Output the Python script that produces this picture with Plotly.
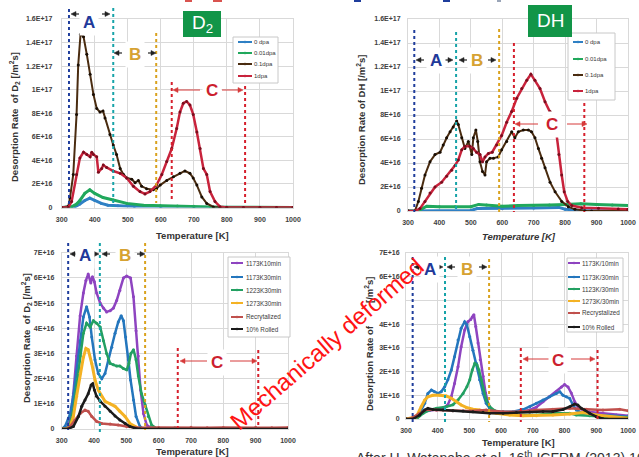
import plotly.graph_objects as go
import numpy as np

W, H = 639, 457
def fx(p): return p / W
def fy(p): return 1 - p / H

E16 = 1e16
temp_ticks = [300, 400, 500, 600, 700, 800, 900, 1000]
top_ytick_vals = [0, 2, 4, 6, 8, 10, 12, 14, 16]
top_ytick_text = ["0", "2E+16", "4E+16", "6E+16", "8E+16", "1E+17", "1.2E+17", "1.4E+17", "1.6E+17"]
bot_ytick_vals = [0, 1, 2, 3, 4, 5, 6, 7]
bot_ytick_text = ["0", "1E+16", "2E+16", "3E+16", "4E+16", "5E+16", "6E+16", "7E+16"]
# in the bottom-right panel the 5E+16 label is hidden behind the "Mechanically deformed" caption
br_ytick_text = ["0", "1E+16", "2E+16", "3E+16", "4E+16", "", "6E+16", "7E+16"]

# ---------------- Top-left: D2, irradiation dose ----------------
tl_names = ["0 dpa", "0.01dpa", "0.1dpa", "1dpa"]
tl_T_0dpa = [300, 340, 355, 370, 385, 400, 420, 440, 470, 520, 600, 700, 800, 1000]
tl_V_0dpa = [0, 0.05, 0.3, 0.6, 0.8, 0.6, 0.35, 0.2, 0.15, 0.08, 0.03, 0.01, 0, 0]
tl_T_001 = [300, 330, 345, 355, 370, 385, 400, 425, 456, 497, 547, 598, 650, 700, 750, 800, 1000]
tl_V_001 = [0, 0.05, 0.3, 0.6, 1.2, 1.5, 1.2, 0.85, 0.64, 0.35, 0.2, 0.15, 0.12, 0.1, 0.05, 0.02, 0]
tl_T_01 = [300, 320, 325, 335, 345, 350, 357, 366, 376, 386, 396, 406, 416, 425, 431, 446, 456, 466, 477, 487,
           497, 512, 522, 532, 542, 557, 577, 587, 598, 618, 638, 658, 673, 688, 698, 709, 724, 739, 759, 779,
           800, 850, 900, 950, 1000]
tl_V_01 = [0, 0.1, 0.8, 2.8, 7.9, 12.1, 14.7, 14.5, 13.0, 11.3, 9.6, 8.4, 8.1, 8.2, 7.6, 6.2, 5.3, 4.5, 3.3, 2.8,
           2.5, 2.4, 2.1, 2.3, 1.8, 1.6, 1.5, 1.6, 1.9, 2.3, 2.6, 2.9, 3.1, 2.9, 2.5, 1.9, 0.9, 0.35, 0.05, 0,
           0, 0, 0, 0, 0]
tl_T_1dpa = [300, 320, 330, 345, 355, 366, 376, 386, 391, 396, 406, 411, 421, 426, 436, 456, 477, 497, 517, 537,
             552, 567, 587, 603, 618, 633, 648, 658, 668, 678, 688, 698, 709, 719, 729, 739, 749, 764, 779, 799,
             850, 900, 950, 1000]
tl_V_1dpa = [0, 0, 0.5, 2.8, 4.2, 4.7, 4.5, 4.3, 4.7, 4.5, 4.3, 3.0, 3.3, 3.6, 3.4, 3.1, 2.9, 2.5, 1.8, 1.35,
             1.15, 1.35, 1.9, 2.8, 3.9, 5.0, 6.7, 8.1, 8.85, 9.0, 8.7, 7.9, 6.4, 5.0, 3.3, 2.8, 1.35, 0.5, 0.07, 0,
             0, 0, 0, 0]

# ---------------- Top-right: DH, irradiation dose ----------------
tr_names = ["0 dpa", "0.01dpa", "0.1dpa", "1dpa"]
tr_T_0dpa = [300, 500, 520, 600, 700, 780, 800, 850, 1000]
tr_V_0dpa = [0, 0.05, 0.2, 0.2, 0.25, 0.3, 0.15, 0.05, 0]
tr_T_001 = [300, 330, 345, 360, 400, 450, 500, 525, 550, 600, 650, 700, 750, 800, 850, 900, 950, 1000]
tr_V_001 = [0, 0, 0.2, 0.4, 0.35, 0.35, 0.35, 0.55, 0.5, 0.4, 0.45, 0.45, 0.5, 0.55, 0.6, 0.55, 0.5, 0.45]
tr_T_01 = [300, 322, 333, 343, 354, 370, 386, 402, 412, 423, 434, 444, 455, 460, 471, 481, 492, 503, 508, 516,
           522, 529, 537, 545, 550, 561, 572, 587, 598, 614, 630, 640, 651, 667, 683, 693, 704, 715, 725, 736,
           752, 768, 789, 810, 831, 863, 884, 1000]
tr_V_01 = [0, 0, 0.8, 1.9, 3.0, 4.1, 4.7, 4.9, 5.5, 6.1, 6.6, 7.0, 7.5, 7.2, 6.1, 5.2, 5.8, 4.7, 6.1, 6.75,
           5.8, 4.1, 3.3, 3.0, 4.1, 4.4, 4.4, 4.5, 5.1, 5.8, 6.6, 6.1, 6.6, 6.75, 6.75, 6.6, 6.1, 5.2, 4.4, 3.6,
           2.4, 1.6, 0.8, 0.36, 0.14, 0.03, 0, 0]
tr_T_1dpa = [300, 322, 338, 354, 370, 386, 407, 423, 439, 450, 460, 471, 481, 497, 508, 518, 529, 537, 545, 556,
             568, 582, 598, 614, 630, 646, 662, 678, 691, 704, 720, 736, 752, 762, 773, 780, 789, 797, 808, 821,
             853, 906, 969, 1000]
tr_V_1dpa = [0, 0, 0.2, 0.8, 1.5, 2.0, 2.4, 2.9, 3.4, 3.8, 4.25, 5.1, 5.4, 5.4, 5.2, 4.9, 4.7, 4.1, 4.5, 4.8,
             4.9, 5.5, 6.3, 7.4, 8.3, 9.4, 10.2, 10.9, 11.4, 10.9, 10.2, 9.1, 8.3, 7.7, 6.3, 4.7, 3.0, 1.6, 0.8, 0.45,
             0.28, 0.22, 0.17, 0.14]

# ---------------- Bottom-left: D2, annealing ----------------
bl_names = ["1173K10min", "1173K30min", "1223K30min", "1273K30min", "Recrytalized", "10% Rolled"]
bl_T_p = [300, 315, 326, 336, 346, 357, 367, 375, 382, 390, 395, 401, 408, 419, 429, 439, 450, 460, 470, 480,
          491, 501, 513, 522, 530, 537, 544, 553, 563, 578, 594, 700, 800, 900, 1000]
bl_V_p = [0, 0, 0.36, 1.4, 2.9, 4.5, 5.4, 5.9, 6.15, 5.8, 6.05, 5.85, 5.4, 5.0, 4.8, 4.65, 4.7, 4.8, 5.1, 5.5,
          6.0, 6.07, 6.0, 5.25, 3.9, 2.9, 1.55, 0.62, 0.16, 0.03, 0, 0, 0, 0, 0]
bl_T_b = [300, 310, 320, 326, 336, 346, 357, 367, 377, 386, 393, 403, 413, 424, 434, 444, 455, 465, 475, 484,
          491, 498, 506, 513, 522, 530, 542, 553, 600, 1000]
bl_V_b = [0, 0.1, 0.4, 0.6, 1.3, 2.3, 3.5, 4.45, 4.85, 4.45, 3.65, 2.75, 2.2, 2.0, 2.2, 2.75, 3.25, 3.8, 4.25, 4.5,
          4.3, 3.65, 2.75, 1.95, 1.15, 0.5, 0.1, 0, 0, 0]
bl_T_g = [300, 316, 326, 336, 346, 357, 367, 377, 388, 398, 408, 419, 429, 439, 450, 460, 470, 480, 491, 501,
          508, 514, 522, 530, 537, 547, 558, 568, 578, 594, 700, 1000]
bl_V_g = [0, 0, 0.22, 0.75, 1.7, 2.9, 3.8, 4.2, 4.05, 4.3, 4.2, 4.05, 3.5, 3.0, 2.6, 2.55, 2.5, 2.5, 2.4, 2.35,
          2.6, 3.0, 3.15, 2.75, 2.1, 1.4, 0.95, 0.5, 0.16, 0.02, 0, 0]
bl_T_o = [300, 316, 326, 336, 346, 357, 367, 375, 382, 393, 403, 413, 424, 434, 450, 465, 480, 496, 511, 527,
          542, 600, 1000]
bl_V_o = [0, 0, 0.1, 0.5, 1.3, 2.2, 2.85, 3.2, 3.15, 2.6, 1.95, 1.55, 1.3, 1.1, 1.0, 0.9, 0.7, 0.5, 0.22, 0.1,
          0, 0, 0]
bl_T_r = [300, 316, 326, 341, 357, 372, 382, 393, 408, 424, 450, 475, 501, 532, 600, 650, 700, 750, 800, 850,
          900, 950, 1000]
bl_V_r = [0, 0, 0.1, 0.36, 0.62, 0.75, 0.7, 0.5, 0.3, 0.22, 0.2, 0.16, 0.1, 0.05, 0.06, 0.05, 0.07, 0.05, 0.06, 0.05,
          0.07, 0.05, 0.06]
bl_T_k = [300, 320, 336, 352, 362, 372, 382, 391, 396, 401, 408, 419, 434, 450, 465, 480, 496, 511, 527, 542,
          600, 1000]
bl_V_k = [0, 0, 0.1, 0.5, 0.9, 1.15, 1.4, 1.75, 1.8, 1.55, 1.3, 1.1, 0.9, 0.7, 0.52, 0.36, 0.22, 0.1, 0.03, 0,
          0, 0]

# ---------------- Bottom-right: DH, annealing ----------------
br_names = ["1173K/10min", "1173K/30min", "1123K/30min", "1273K/30min", "Recrystalized", "10% Rolled"]
br_T_p = [300, 322, 354, 396, 417, 432, 443, 453, 464, 474, 485, 495, 504, 509, 514, 520, 527, 534, 543, 551,
          559, 569, 585, 606, 648, 690, 711, 732, 753, 774, 790, 800, 811, 821, 832, 842, 858, 879, 921, 963, 1000]
br_V_p = [0, 0, 0.3, 0.38, 0.45, 0.6, 0.95, 1.5, 2.2, 3.05, 3.75, 4.1, 4.2, 4.3, 4.4, 3.9, 3.2, 2.5, 1.8, 1.1,
          0.65, 0.4, 0.3, 0.28, 0.28, 0.38, 0.5, 0.73, 0.95, 1.15, 1.35, 1.45, 1.35, 1.1, 0.73, 0.52, 0.38, 0.3, 0.24,
          0.17, 0.14]
br_T_b = [300, 322, 343, 359, 369, 380, 390, 401, 411, 422, 432, 443, 453, 464, 474, 485, 492, 501, 511, 522,
          532, 543, 553, 564, 585, 606, 637, 669, 690, 711, 732, 753, 774, 785, 795, 806, 816, 827, 837, 858,
          900, 942, 1000]
br_V_b = [0, 0, 0.24, 0.66, 1.08, 1.22, 1.15, 1.08, 1.15, 1.36, 1.65, 2.07, 2.63, 3.33, 3.83, 4.1, 3.97, 3.47, 2.9,
          2.35, 1.65, 1.08, 0.66, 0.45, 0.31, 0.31, 0.31, 0.4, 0.52, 0.66, 0.8, 0.94, 1.08, 1.15, 1.0, 0.94, 0.87,
          0.59, 0.38, 0.24, 0.17, 0.15, 0.1]
br_T_g = [300, 333, 354, 375, 396, 427, 448, 464, 480, 492, 501, 509, 517, 524, 530, 538, 545, 553, 564, 580,
          606, 658, 711, 763, 816, 837, 879, 921, 1000]
br_V_g = [0, 0, 0.24, 0.38, 0.45, 0.52, 0.6, 0.8, 1.08, 1.36, 1.65, 2.07, 2.35, 2.28, 2.07, 1.65, 1.22, 0.8, 0.52,
          0.35, 0.24, 0.17, 0.17, 0.24, 0.24, 0.17, 0.14, 0.1, 0.07]
br_T_o = [300, 333, 348, 359, 369, 385, 406, 427, 443, 459, 474, 490, 511, 532, 553, 585, 627, 669, 711, 763,
          816, 858, 900, 942, 1000]
br_V_o = [0, 0.1, 0.52, 0.8, 0.94, 1.0, 1.0, 0.97, 0.87, 0.73, 0.59, 0.49, 0.41, 0.38, 0.31, 0.24, 0.17, 0.14, 0.14,
          0.17, 0.21, 0.27, 0.17, 0.1, 0.03]
br_T_r = [300, 312, 343, 364, 396, 448, 501, 553, 606, 658, 711, 763, 816, 869, 921, 974, 1000]
br_V_r = [0, 0, 0.24, 0.4, 0.38, 0.35, 0.34, 0.38, 0.31, 0.31, 0.38, 0.41, 0.45, 0.41, 0.38, 0.41, 0.35]
br_T_k = [300, 322, 343, 359, 369, 385, 417, 448, 480, 511, 543, 564, 606, 648, 690, 732, 763, 795, 816, 832,
          842, 853, 863, 879, 900, 921, 1000]
br_V_k = [0, 0, 0.17, 0.38, 0.45, 0.4, 0.38, 0.35, 0.34, 0.31, 0.28, 0.24, 0.24, 0.27, 0.3, 0.32, 0.32, 0.4, 0.52,
          0.63, 0.59, 0.45, 0.38, 0.24, 0.1, 0.01, 0]

# colours
C_BLUE, C_GREEN, C_BROWN, C_RED = "#2f80c4", "#20a85c", "#4a2c10", "#c8233c"
C_PURP, C_BLUE2, C_GREEN2, C_ORANGE, C_PINK, C_BLACK = "#8e44c0", "#2476bd", "#23a062", "#f4b224", "#c0504d", "#1b1b1b"
LTXT = "#3a3a3a"
FONT = "Arial, Liberation Sans, sans-serif"

fig = go.Figure()

def add(T, V, xa, ya, color, width, mcolor=None, msize=3):
    fig.add_trace(go.Scatter(
        x=T, y=np.array(V) * E16, xaxis=xa, yaxis=ya, mode="lines+markers",
        line=dict(color=color, width=width),
        marker=dict(color=mcolor or color, size=msize),
        showlegend=False, hoverinfo="x+y"))

add(tl_T_0dpa, tl_V_0dpa, "x", "y", C_BLUE, 3)
add(tl_T_001, tl_V_001, "x", "y", C_GREEN, 3)
add(tl_T_01, tl_V_01, "x", "y", C_BROWN, 2, "#1a0e04")
add(tl_T_1dpa, tl_V_1dpa, "x", "y", C_RED, 2.5, "#7a0e1e")

add(tr_T_0dpa, tr_V_0dpa, "x2", "y2", C_BLUE, 3)
add(tr_T_001, tr_V_001, "x2", "y2", C_GREEN, 3)
add(tr_T_01, tr_V_01, "x2", "y2", C_BROWN, 2, "#1a0e04")
add(tr_T_1dpa, tr_V_1dpa, "x2", "y2", C_RED, 2.5, "#7a0e1e")

add(bl_T_p, bl_V_p, "x3", "y3", C_PURP, 2.5)
add(bl_T_b, bl_V_b, "x3", "y3", C_BLUE2, 2.5)
add(bl_T_g, bl_V_g, "x3", "y3", C_GREEN2, 2.5)
add(bl_T_o, bl_V_o, "x3", "y3", C_ORANGE, 3)
add(bl_T_r, bl_V_r, "x3", "y3", C_PINK, 2.5)
add(bl_T_k, bl_V_k, "x3", "y3", C_BLACK, 2.5)

add(br_T_p, br_V_p, "x4", "y4", C_PURP, 2.5)
add(br_T_b, br_V_b, "x4", "y4", C_BLUE2, 2.5)
add(br_T_g, br_V_g, "x4", "y4", C_GREEN2, 2.5)
add(br_T_o, br_V_o, "x4", "y4", C_ORANGE, 3)
add(br_T_r, br_V_r, "x4", "y4", C_PINK, 2.5)
add(br_T_k, br_V_k, "x4", "y4", C_BLACK, 2.5)

GRID = "#d9d9d9"
tickfont = dict(family=FONT, size=7, color="#404040", weight="bold")

def xax(x0, x1, anchor, standoff):
    return dict(domain=[fx(x0), fx(x1)], anchor=anchor, range=[300, 1000], tickmode="array",
                tickvals=temp_ticks, ticktext=[str(t) for t in temp_ticks], showgrid=True, gridcolor=GRID,
                gridwidth=1, zeroline=False, showline=True, linecolor=GRID, mirror=True, ticks="",
                tickfont=tickfont, ticklabelstandoff=standoff, fixedrange=True, automargin=False)

def yax(y0, y1, anchor, vals, text, standoff):
    return dict(domain=[fy(y0), fy(y1)], anchor=anchor, range=[0, vals[-1] * E16], tickmode="array",
                tickvals=[v * E16 for v in vals], ticktext=text, showgrid=True, gridcolor=GRID, gridwidth=1,
                zeroline=False, showline=True, linecolor=GRID, mirror=True, ticks="", tickfont=tickfont,
                ticklabelstandoff=standoff, fixedrange=True, automargin=False)

shapes = []
annotations = []

# vertical dotted region markers (x in data coords, y in pixels)
BLUE_L, TEAL_L, ORANGE_L, RED_L = "#1f3d9c", "#16a3a8", "#d9a21e", "#d61f2c"
def vline(xref, T, y0, y1, color):
    shapes.append(dict(type="line", xref=xref, yref="paper", x0=T, x1=T, y0=fy(y0), y1=fy(y1),
                       line=dict(color=color, width=2, dash="dot"), layer="above"))

vline("x", 322, 9, 207, BLUE_L); vline("x", 456, 8, 207, TEAL_L); vline("x", 586, 33, 203, ORANGE_L)
vline("x", 633, 82, 202, RED_L); vline("x", 855, 86, 203, RED_L)
vline("x2", 320, 30, 212, BLUE_L); vline("x2", 453, 32, 212, TEAL_L); vline("x2", 590, 29, 212, ORANGE_L)
vline("x2", 637, 43, 212, RED_L); vline("x2", 861, 103, 212, RED_L)
vline("x3", 320, 243, 430, BLUE_L); vline("x3", 418, 243, 432, TEAL_L); vline("x3", 558, 243, 430, ORANGE_L)
vline("x3", 659, 348, 428, RED_L); vline("x3", 908, 350, 428, RED_L)
vline("x4", 321, 257, 422, BLUE_L); vline("x4", 423, 257, 422, TEAL_L); vline("x4", 562, 259, 422, ORANGE_L)
vline("x4", 662, 348, 422, RED_L); vline("x4", 904, 350, 422, RED_L)

# legends (drawn manually)
def legend(box, names, colors, ys, lx0, lx1, tx, fsize):
    x0, y0, x1, y1 = box
    shapes.append(dict(type="rect", xref="paper", yref="paper", x0=fx(x0), x1=fx(x1), y0=fy(y0), y1=fy(y1),
                       fillcolor="white", line=dict(color="#c8c8c8", width=1), layer="above"))
    for n, c, yy in zip(names, colors, ys):
        shapes.append(dict(type="line", xref="paper", yref="paper", x0=fx(lx0), x1=fx(lx1), y0=fy(yy), y1=fy(yy),
                           line=dict(color=c, width=2), layer="above"))
        shapes.append(dict(type="circle", xref="paper", yref="paper", x0=fx((lx0 + lx1) / 2 - 1.3),
                           x1=fx((lx0 + lx1) / 2 + 1.3), y0=fy(yy - 1.3), y1=fy(yy + 1.3),
                           fillcolor=c, line=dict(color=c, width=0), layer="above"))
        annotations.append(dict(x=fx(tx), y=fy(yy), xref="paper", yref="paper", text=n, showarrow=False,
                                xanchor="left", yanchor="middle", font=dict(family=FONT, size=fsize, color=LTXT)))

legend((233, 37, 278, 83), tl_names, [C_BLUE, C_GREEN, C_BROWN, C_RED], [42, 53, 64, 76], 238, 252, 252, 6)
legend((568, 33, 615, 100), tr_names, [C_BLUE, C_GREEN, C_BROWN, C_RED], [42, 59, 75, 91], 573, 583, 583, 6)
legend((228, 257, 290, 337), bl_names, [C_PURP, C_BLUE2, C_GREEN2, C_ORANGE, C_PINK, C_BLACK],
       [263, 277, 290, 303, 317, 329], 231, 243, 244, 6.3)
legend((567, 258, 623, 332), br_names, [C_PURP, C_BLUE2, C_GREEN2, C_ORANGE, C_PINK, C_BLACK],
       [263, 277, 289, 301, 313, 327], 568, 580, 580, 6.3)

def txt(t, x, y, font, angle=0, **kw):
    d = dict(x=fx(x), y=fy(y), xref="paper", yref="paper", text=t, showarrow=False, textangle=angle, font=font,
             xanchor="center", yanchor="middle")
    d.update(kw)
    annotations.append(d)

# green title boxes
GREEN_BOX = "#129548"
shapes.append(dict(type="rect", xref="paper", yref="paper", x0=fx(183), x1=fx(221), y0=fy(37), y1=fy(11),
                   fillcolor=GREEN_BOX, line=dict(width=0), layer="above"))
shapes.append(dict(type="rect", xref="paper", yref="paper", x0=fx(528), x1=fx(572), y0=fy(37), y1=fy(5),
                   fillcolor=GREEN_BOX, line=dict(width=0), layer="above"))
txt("D<sub>2</sub>", 202, 24, dict(family=FONT, size=19, color="white"))
txt("DH", 550, 21, dict(family=FONT, size=19, color="white"))

# top cut-off remnants
for (a, b, c) in [(185, 192, "#d9534f"), (213, 222, "#d9534f"), (354, 361, "#1f3d9c"), (443, 450, "#1f3d9c"),
                  (497, 501, "#9aa5b8")]:
    shapes.append(dict(type="rect", xref="paper", yref="paper", x0=fx(a), x1=fx(b), y0=fy(2), y1=fy(0),
                       fillcolor=c, line=dict(width=0)))

# region letters
L_A, L_B, L_C = "#22399a", "#d6a232", "#cc1f2f"
def letter(t, x, y, color):
    txt(t, x, y, dict(family=FONT, size=17, color=color, weight="bold"), bgcolor="white", borderpad=3)

def arrow(head, tail, y, color="#222222", w=1.2, L=5, hw=2.5):
    d = 1 if head > tail else -1
    shapes.append(dict(type="line", xref="paper", yref="paper", x0=fx(tail), x1=fx(head - d * L * 0.6),
                       y0=fy(y), y1=fy(y), line=dict(color=color, width=w), layer="above"))
    path = "M {} {} L {} {} L {} {} Z".format(fx(head), fy(y), fx(head - d * L), fy(y - hw),
                                               fx(head - d * L), fy(y + hw))
    shapes.append(dict(type="path", xref="paper", yref="paper", path=path, fillcolor=color,
                       line=dict(color=color, width=0.5), layer="above"))

letter("A", 89, 22, L_A); letter("B", 135, 54, L_B); letter("C", 212, 90, L_C)
letter("A", 436, 61, L_A); letter("B", 477, 61, L_B); letter("C", 552, 124, L_C)
letter("A", 85, 255, L_A); letter("B", 125, 255, L_B); letter("C", 217, 362, L_C)
letter("A", 430, 269, L_A); letter("B", 467, 269, L_B); letter("C", 558, 360, L_C)

arrow(71, 79, 14); arrow(110, 102, 14); arrow(114, 122, 53); arrow(156, 148, 53)
arrow(416, 424, 60); arrow(453, 445, 60); arrow(459, 467, 60); arrow(496, 488, 60)
arrow(70, 78, 254); arrow(99, 91, 254); arrow(102, 110, 254); arrow(145, 137, 254)
arrow(414, 422, 267); arrow(443, 435, 267); arrow(447, 455, 267); arrow(487, 479, 267)
RA = "#d63a3a"
arrow(173, 200, 90, RA, 1); arrow(243, 222, 90, RA, 1)
arrow(515, 538, 124, RA, 1); arrow(587, 567, 124, RA, 1)
arrow(180, 207, 361, RA, 1); arrow(257, 230, 361, RA, 1)
arrow(523, 550, 359, RA, 1); arrow(595, 571, 359, RA, 1)

# axis titles
TT = dict(family=FONT, size=9.5, color="#333333", weight="bold")
ttl_D2 = "Desorption Rate  of D<sub>2</sub> [/m<sup>2</sup>s]"
ttl_DH = "Desorption Rate of DH [/m<sup>2</sup>s]"
txt(ttl_D2, 14, 117, TT, -90)
txt(ttl_DH, 361, 120, TT, -90)
txt(ttl_D2, 26, 338, TT, -90)
# bottom-right title: the "D2" part is covered by the caption in the reference
txt("Desorption Rate of", 369, 368, TT, -90)
txt("[/m<sup>2</sup>s]", 369, 290, TT, -90)
txt("Temperature [K]", 192, 235, TT)
txt("Temperature [K]", 519, 236, dict(TT, style="italic"))
txt("Temperature [K]", 192, 451, TT)
txt("Temperature [K]", 518, 442, TT)

# overlay caption
txt("Mechanically deformed", 327, 343, dict(family=FONT, size=24, color="#ff1414"), -41)
txt("After H. Watanabe et al. 16<sup>th</sup> ICFRM (2013) 16", 355, 447,
    dict(family=FONT, size=14, color="#333333"), xanchor="left", yanchor="top", borderpad=0)

fig.update_layout(
    width=W, height=H, margin=dict(l=0, r=0, t=0, b=0, autoexpand=False), paper_bgcolor="white",
    plot_bgcolor="white", showlegend=False, font=dict(family=FONT),
    xaxis=xax(61.7, 293, "y", 5), yaxis=yax(207.5, 19, "x", top_ytick_vals, top_ytick_text, 7),
    xaxis2=xax(408, 628, "y2", 5), yaxis2=yax(211, 19, "x2", top_ytick_vals, top_ytick_text, 5),
    xaxis3=xax(61.7, 288, "y3", 5), yaxis3=yax(429, 252.7, "x3", bot_ytick_vals, bot_ytick_text, 5),
    xaxis4=xax(406, 628, "y4", 5), yaxis4=yax(419, 253, "x4", bot_ytick_vals, br_ytick_text, 4),
    shapes=shapes, annotations=annotations,
)

fig.write_html("out.html", config=dict(displayModeBar=False),
               post_script="document.body.style.margin='0px';document.body.style.overflow='hidden';")
